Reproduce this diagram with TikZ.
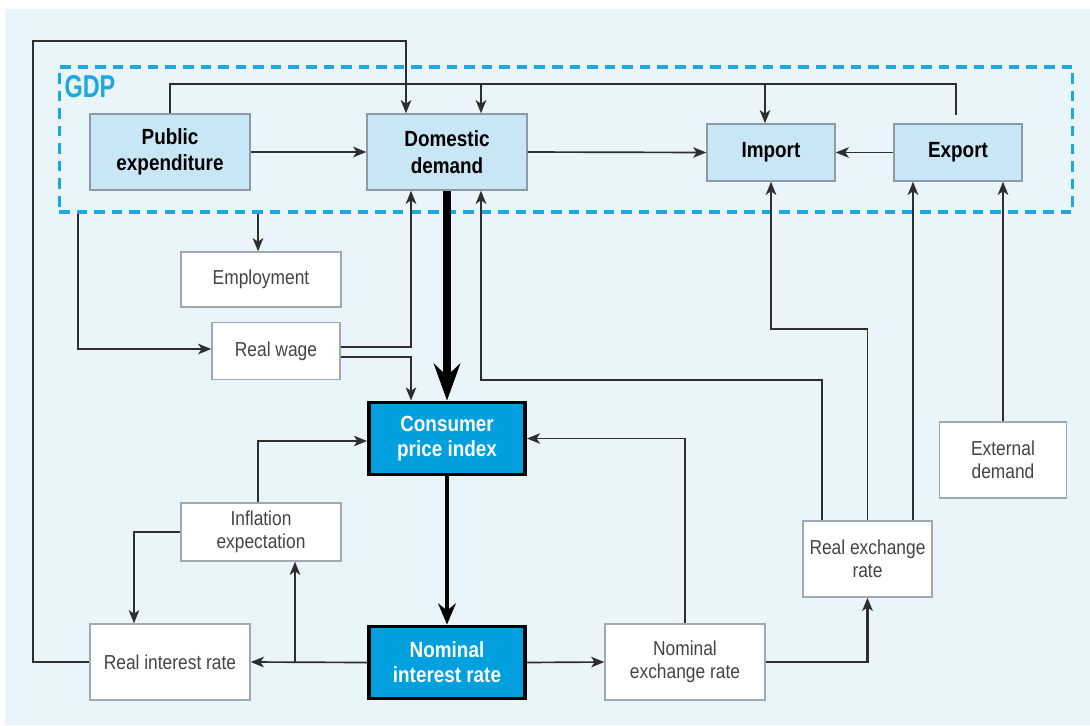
\documentclass[tikz,border=0pt]{standalone}
\usepackage{fontspec}
\setmainfont{Liberation Sans}[FakeStretch=0.86]
\newfontfamily\gdpfont{Liberation Sans}[FakeStretch=0.74]
\usepackage{tikz}
\usetikzlibrary{arrows.meta,positioning,calc}
\definecolor{bgblue}{HTML}{EAF4FB}
\definecolor{gdpfill}{HTML}{C9E6F6}
\definecolor{keyblue}{HTML}{009FDD}
\definecolor{dashblue}{HTML}{1DA8E0}
\definecolor{wiregray}{HTML}{2E2E2E}
\definecolor{framegray}{HTML}{8D9BA4}
\definecolor{textgray}{HTML}{444444}

\begin{document}
\begin{tikzpicture}[x=0.02cm, y=-0.02cm, >=Stealth, line join=miter,
  gdpbox/.style={draw=framegray, fill=gdpfill, line width=0.8pt, align=center, inner sep=0pt,
    font=\fontsize{12.5}{15}\selectfont\bfseries},
  plainbox/.style={draw=framegray!85, fill=white, line width=0.8pt, align=center, inner sep=0pt,
    text=textgray, font=\fontsize{11.5}{13}\selectfont},
  keybox/.style={draw=black, fill=keyblue, line width=2.2pt, align=center, inner sep=0pt,
    text=white, font=\fontsize{12.5}{14.2}\selectfont\bfseries},
  wire/.style={draw=wiregray, line width=0.95pt},
  link/.style={wire, -{Stealth[length=7.5pt, width=6pt, inset=2pt]}},
  bigarrow/.style={draw=black, line width=4pt, -{Stealth[length=21pt, width=15pt, inset=7pt]}},
  midarrow/.style={draw=black, line width=2.2pt, -{Stealth[length=12pt, width=10pt, inset=4pt]}}]

% background and margins
\useasboundingbox (0,0) rectangle (1090,725);
\fill[bgblue] (5,9) rectangle (1090,725);

% GDP frame
\node[draw=dashblue, line width=1.8pt, dash pattern=on 6pt off 4pt,
  minimum width=20.28cm, minimum height=2.9cm, inner sep=0pt] (gdp) at (566,139.5) {};
\node[text=dashblue, font=\fontsize{18}{20}\selectfont\bfseries\gdpfont] (gdplabel) at (90,87) {GDP};

% boxes
\node[gdpbox, minimum width=3.2cm, minimum height=1.52cm] (pubexp) at (170,152) {Public\\expenditure};
\node[gdpbox, minimum width=3.2cm, minimum height=1.52cm] (domdem) at (447,152) {Domestic\\demand};
\node[gdpbox, minimum width=2.56cm, minimum height=1.14cm] (import) at (771,152.5) {Import};
\node[gdpbox, minimum width=2.56cm, minimum height=1.14cm] (export) at (958,152.5) {Export};

\node[plainbox, minimum width=3.2cm, minimum height=1.1cm] (employ) at (261,279.5) {Employment};
\node[plainbox, minimum width=2.56cm, minimum height=1.14cm] (rwage) at (276,351) {Real wage};
\node[plainbox, minimum width=3.2cm, minimum height=1.16cm] (inflexp) at (261,532) {Inflation\\expectation};
\node[plainbox, minimum width=3.2cm, minimum height=1.52cm] (rinterest) at (170,662) {Real interest rate};
\node[plainbox, minimum width=3.2cm, minimum height=1.52cm] (nexchange) at (685,662) {Nominal\\exchange rate};
\node[plainbox, minimum width=2.58cm, minimum height=1.52cm] (rexchange) at (867.5,559) {Real exchange\\rate};
\node[plainbox, minimum width=2.55cm, minimum height=1.52cm] (extdem) at (1003,460) {External\\demand};

\node[keybox, minimum width=3.12cm, minimum height=1.44cm] (cpi) at (447,438.5) {Consumer\\price index};
\node[keybox, minimum width=3.12cm, minimum height=1.44cm] (ninterest) at (447,662.5) {Nominal\\interest rate};

% top feedback lines
\coordinate (busL) at (170,84);
\coordinate (busR) at (956,84);
\draw[wire] (pubexp.north) -- (busL) -- (busR) -- ([yshift=5pt]956,0 |- export.north);
\draw[link] (481,84) -- (481,0 |- domdem.north);
\draw[link] (765,84) -- (765,0 |- import.north);
\draw[link] (rinterest.west) -| (33,41) -| (406,0 |- domdem.north);

% inside GDP
\draw[link] (pubexp.east) -- (domdem.west);
\draw[link] (domdem.east) -- (import.west);
\draw[link] (export.west) -- (import.east);

% from GDP
\draw[link] (258,0 |- gdp.south) -- (258,0 |- employ.north);
\draw[link] (78,0 |- gdp.south) |- ([yshift=0.04cm]rwage.west);
\draw[link] ([yshift=0.08cm]rwage.east) -| (411,0 |- domdem.south);
\draw[link] ([yshift=-0.12cm]rwage.east) -| (411,0 |- cpi.north);
\draw[bigarrow] (domdem.south) -- (cpi.north);

% exchange rate channel
\draw[link] (822,0 |- rexchange.north) |- (481,380) -- (481,0 |- domdem.south);
\draw[link] (rexchange.north) |- (771,329) -- (import.south);
\draw[link] (913,0 |- rexchange.north) -- (913,0 |- export.south);
\draw[link] (extdem.north) -- (extdem.north |- export.south);

% interest rate channel
\draw[midarrow] (cpi.south) -- (ninterest.north);
\draw[link] (ninterest.west) -- (rinterest.east);
\draw[link] (295,0 |- ninterest.west) -- (295,0 |- inflexp.south);
\draw[link] (258,0 |- inflexp.north) |- ([yshift=-0.05cm]cpi.west);
\draw[link] (inflexp.west) -| (134,0 |- rinterest.north);
\draw[link] (ninterest.east) -- (nexchange.west);
\draw[link] (nexchange.north) |- (cpi.east);
\draw[link, line width=1.3pt] (nexchange.east) -| (rexchange.south);
\end{tikzpicture}
\end{document}
